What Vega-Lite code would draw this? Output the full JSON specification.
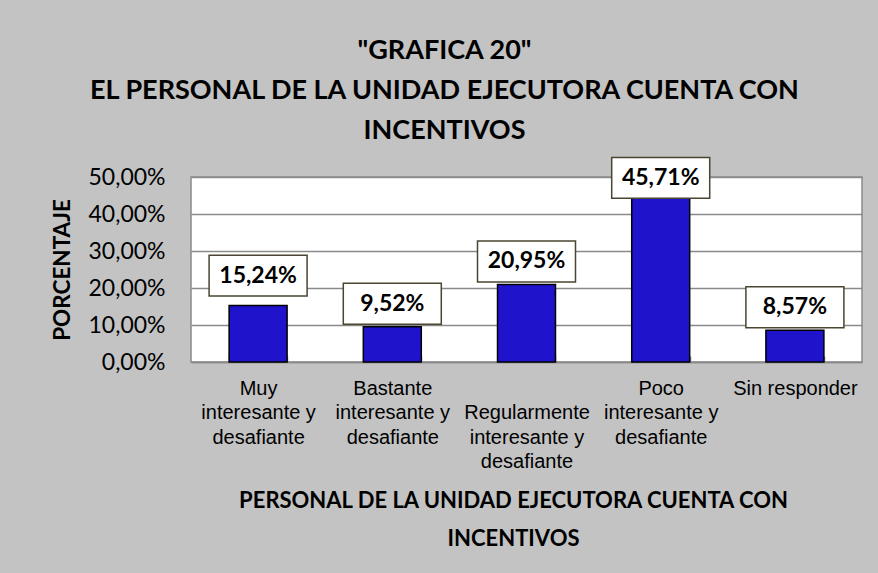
{
  "$schema": "https://vega.github.io/schema/vega-lite/v6.json",
  "width": 671,
  "height": 185,
  "autosize": {"type": "none"},
  "padding": {"left": 191, "top": 177, "right": 16, "bottom": 211},
  "background": "#c3c3c3",
  "config": {
    "view": {"fill": "white", "stroke": "#8a8a8a", "strokeWidth": 1.5}
  },
  "title": {
    "text": ["\"GRAFICA 20\"", "EL PERSONAL DE LA UNIDAD EJECUTORA CUENTA CON", "INCENTIVOS"],
    "font": "Lato",
    "fontWeight": "bold",
    "fontSize": 27,
    "lineHeight": 40,
    "color": "black",
    "anchor": "middle",
    "dx": -82,
    "offset": 9
  },
  "data": {
    "values": [
      {"categoria": "Muy interesante y desafiante", "porcentaje": 15.24},
      {"categoria": "Bastante interesante y desafiante", "porcentaje": 9.52},
      {"categoria": "Regularmente interesante y desafiante", "porcentaje": 20.95},
      {"categoria": "Poco interesante y desafiante", "porcentaje": 45.71},
      {"categoria": "Sin responder", "porcentaje": 8.57}
    ]
  },
  "encoding": {
    "x": {
      "field": "categoria",
      "type": "nominal",
      "sort": null,
      "scale": {"paddingInner": 0.568, "paddingOuter": 0.284},
      "axis": {
        "title": ["PERSONAL DE LA UNIDAD EJECUTORA CUENTA CON", "INCENTIVOS"],
        "titleFont": "Lato",
        "titleFontWeight": "bold",
        "titleFontSize": 22,
        "titleLineHeight": 38,
        "titleColor": "black",
        "titleX": 322,
        "titleY": 128,
        "titleAlign": "center",
        "titleBaseline": "top",
        "labelAngle": 0,
        "labelFont": "Liberation Sans",
        "labelFontSize": 20,
        "labelLineHeight": 24.5,
        "labelColor": "black",
        "labelPadding": 22,
        "labelBaseline": "top",
        "labelExpr": "!isValid(datum.value) ? '' : datum.value == 'Regularmente interesante y desafiante' ? ['', 'Regularmente', 'interesante y', 'desafiante'] : datum.value == 'Sin responder' ? 'Sin responder' : [split(datum.value, ' ')[0], 'interesante y', 'desafiante']",
        "domainColor": "#8a8a8a",
        "domainWidth": 1.5,
        "tickBand": "extent",
        "tickSize": -6,
        "tickColor": "#8a8a8a",
        "tickWidth": 1.5
      }
    },
    "y": {
      "field": "porcentaje",
      "type": "quantitative",
      "scale": {"domain": [0, 50], "nice": false},
      "axis": {
        "title": "PORCENTAJE",
        "titleFont": "Lato",
        "titleFontWeight": "bold",
        "titleFontSize": 22.5,
        "titleColor": "black",
        "titlePadding": 13,
        "values": [0, 10, 20, 30, 40, 50],
        "labelExpr": "replace(format(datum.value, '.2f'), '.', ',') + '%'",
        "labelFont": "Lato",
        "labelFontSize": 23,
        "labelColor": "black",
        "labelPadding": 26,
        "ticks": false,
        "domain": false,
        "gridColor": "#8a8a8a",
        "gridWidth": 1.5
      }
    }
  },
  "layer": [
    {
      "mark": {"type": "bar", "color": "#1f14cc", "stroke": "black", "strokeWidth": 1.5}
    },
    {
      "mark": {
        "type": "point",
        "shape": "M-1,-0.418L1,-0.418L1,0.418L-1,0.418Z",
        "size": 9604,
        "filled": true,
        "fill": "white",
        "stroke": "#4a4530",
        "strokeWidth": 1.5,
        "opacity": 1,
        "yOffset": {"expr": "datum.porcentaje > 40 ? -15 : (datum.porcentaje > 12 && datum.porcentaje < 18) ? -30 : -23"}
      }
    },
    {
      "mark": {
        "type": "text",
        "font": "Lato",
        "fontWeight": "bold",
        "fontSize": 23,
        "color": "black",
        "baseline": "middle",
        "yOffset": {"expr": "datum.porcentaje > 40 ? -15 : (datum.porcentaje > 12 && datum.porcentaje < 18) ? -30 : -23"}
      },
      "encoding": {
        "text": {"field": "porcentaje_lbl"}
      },
      "transform": [
        {"calculate": "replace(format(datum.porcentaje, '.2f'), '.', ',') + '%'", "as": "porcentaje_lbl"}
      ]
    }
  ]
}
